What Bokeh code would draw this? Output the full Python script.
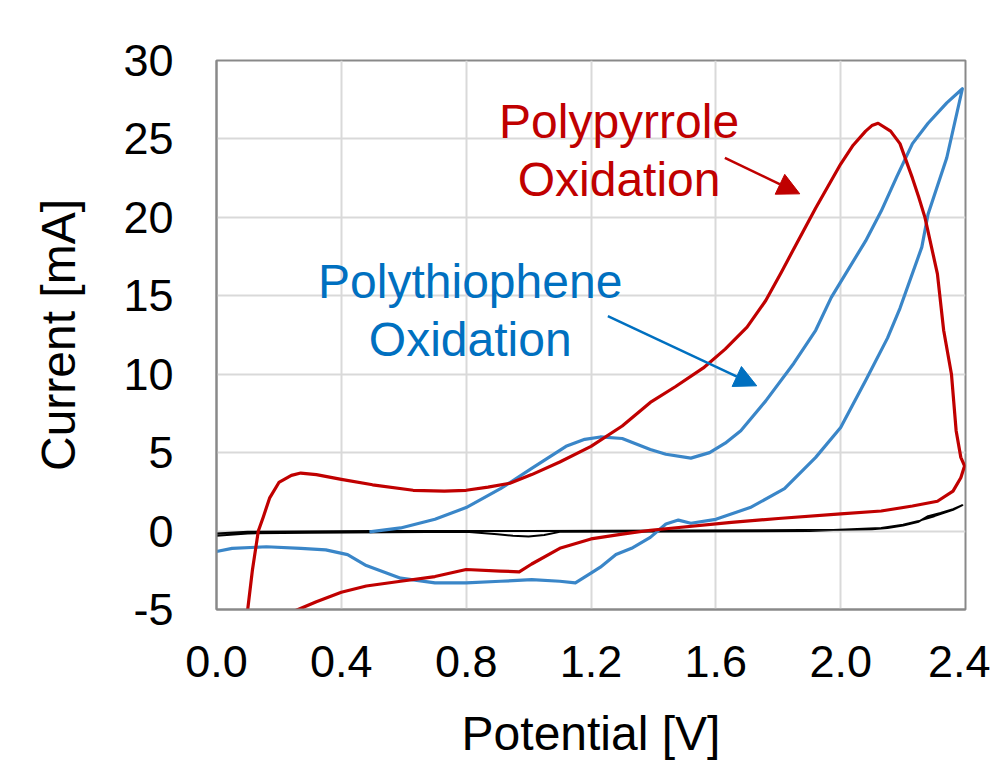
from bokeh.plotting import figure
from bokeh.models import Range1d, FixedTicker, NumeralTickFormatter, Arrow, NormalHead, ColumnDataSource
from bokeh.core.properties import value
from bokeh.embed import file_html
from bokeh.resources import INLINE

# ---- data ----
x_ticks = [0.0, 0.4, 0.8, 1.2, 1.6, 2.0, 2.4]
y_ticks = [-5, 0, 5, 10, 15, 20, 25, 30]

ppy_v = [0.09, 0.10, 0.115, 0.134, 0.15, 0.17, 0.20, 0.24, 0.27, 0.32, 0.40, 0.50, 0.63, 0.73, 0.80,
         0.87, 0.94, 1.01, 1.10, 1.20, 1.30, 1.39, 1.47, 1.56, 1.63, 1.70, 1.76, 1.81, 1.85, 1.92,
         2.00, 2.04, 2.08, 2.10, 2.12, 2.16, 2.19, 2.21, 2.23, 2.25, 2.27, 2.31, 2.33, 2.355, 2.37,
         2.385, 2.397,
         2.385, 2.36, 2.31, 2.23, 2.13, 2.00, 1.80, 1.65, 1.44, 1.39, 1.30, 1.20, 1.10, 1.01, 0.97,
         0.91, 0.80, 0.70, 0.59, 0.48, 0.40, 0.32, 0.25, 0.20]
ppy_i = [-6.5, -5.0, -2.5, 0.0, 0.9, 2.1, 3.1, 3.55, 3.7, 3.6, 3.3, 2.95, 2.6, 2.55, 2.6,
         2.8, 3.05, 3.6, 4.4, 5.4, 6.7, 8.2, 9.2, 10.4, 11.6, 13.0, 14.7, 16.5, 18.0, 20.6,
         23.4, 24.6, 25.5, 25.85, 26.0, 25.5, 24.7, 23.6, 22.5, 21.3, 20.0, 16.4, 12.8, 10.0, 6.4,
         4.7, 4.15,
         3.4, 2.55, 1.9, 1.6, 1.28, 1.1, 0.8, 0.55, 0.15, 0.05, -0.2, -0.5, -1.1, -2.1, -2.6,
         -2.55, -2.45, -2.9, -3.2, -3.5, -3.9, -4.5, -5.1, -5.6]

pth_v = [0.49, 0.59, 0.70, 0.80, 0.91, 1.01, 1.12, 1.18, 1.23, 1.30, 1.39, 1.44, 1.52, 1.58, 1.63,
         1.68, 1.76, 1.85, 1.92, 1.97, 2.08, 2.13, 2.18, 2.23, 2.28, 2.34, 2.39,
         2.34, 2.28, 2.26, 2.19, 2.15, 2.08, 2.00, 1.92, 1.82, 1.71, 1.60, 1.52, 1.48, 1.44,
         1.39, 1.33, 1.28, 1.23, 1.21, 1.15, 1.10, 1.01, 0.91, 0.80, 0.70, 0.59, 0.48, 0.42,
         0.35, 0.27, 0.16, 0.05, 0.0]
pth_i = [-0.05, 0.2, 0.75, 1.5, 2.7, 4.0, 5.4, 5.85, 6.0, 5.9, 5.2, 4.9, 4.65, 5.0, 5.6,
         6.4, 8.3, 10.7, 12.8, 14.9, 18.5, 20.4, 22.6, 24.7, 26.0, 27.3, 28.2,
         23.8, 20.2, 18.1, 14.2, 12.3, 9.6, 6.6, 4.7, 2.7, 1.5, 0.75, 0.5, 0.7, 0.45,
         -0.4, -1.1, -1.5, -2.3, -2.55, -3.3, -3.2, -3.1, -3.2, -3.3, -3.3, -3.0, -2.2, -1.5,
         -1.2, -1.1, -1.0, -1.1, -1.3]

blank_v = [0.0, 0.1, 0.5, 1.0, 1.5, 2.0, 2.1, 2.15, 2.2, 2.25, 2.28, 2.32, 2.36, 2.39,
           2.36, 2.3, 2.25, 2.2, 2.13, 1.9, 1.5, 1.1, 1.05, 1.0, 0.95, 0.9, 0.8, 0.3, 0.1, 0.0]
blank_i = [-0.15, -0.05, 0.0, 0.0, 0.03, 0.08, 0.12, 0.2, 0.35, 0.6, 0.95, 1.15, 1.4, 1.65,
           1.35, 0.95, 0.65, 0.4, 0.2, 0.0, -0.02, -0.05, -0.25, -0.35, -0.3, -0.2, -0.05, -0.1, -0.15, -0.3]

label_text = ["Polypyrrole", "Oxidation", "Polythiophene", "Oxidation"]
label_v = [1.29, 1.29, 0.813, 0.813]
label_i = [26.1, 22.4, 15.9, 12.2]
label_color = ["#C00000", "#C00000", "#0070C0", "#0070C0"]

arrow_start = [(1.629, 23.8), (1.254, 13.7)]
arrow_end = [(1.869, 21.5), (1.731, 9.26)]
arrow_color = ["#C00000", "#0070C0"]

x_title = "Potential [V]"
y_title = "Current [mA]"

FONT = "Liberation Sans"
AXIS_GRAY = "#898989"

p = figure(width=990, height=762, output_backend="svg", toolbar_location=None,
           x_range=Range1d(0, 2.4), y_range=Range1d(-5, 30),
           min_border_left=216, min_border_right=25, min_border_top=60, min_border_bottom=153)
p.background_fill_color = "white"
p.border_fill_color = "white"
p.outline_line_color = AXIS_GRAY
p.outline_line_width = 2

p.xaxis.ticker = FixedTicker(ticks=x_ticks)
p.yaxis.ticker = FixedTicker(ticks=y_ticks)
p.xaxis.formatter = NumeralTickFormatter(format="0.0")
p.yaxis.formatter = NumeralTickFormatter(format="0")
p.xaxis.axis_label = x_title
p.yaxis.axis_label = y_title
for ax in (p.xaxis, p.yaxis):
    ax.axis_line_color = AXIS_GRAY
    ax.axis_line_width = 2
    ax.major_tick_line_color = None
    ax.minor_tick_line_color = None
    ax.major_label_text_font = FONT
    ax.major_label_text_font_size = "45px"
    ax.major_label_text_color = "black"
    ax.axis_label_text_font = FONT
    ax.axis_label_text_font_size = "48px"
    ax.axis_label_text_font_style = "normal"
    ax.axis_label_text_color = "black"
p.xaxis.major_label_standoff = 30
p.xaxis.axis_label_standoff = 27
p.yaxis.major_label_standoff = 37
p.yaxis.axis_label_standoff = 35

p.xgrid.grid_line_color = "#D9D9D9"
p.ygrid.grid_line_color = "#D9D9D9"
p.xgrid.grid_line_width = 2
p.ygrid.grid_line_width = 2

p.line(blank_v, blank_i, line_color="black", line_width=2, line_join="round")
p.line(pth_v, pth_i, line_color="#3A86C8", line_width=3.2, line_join="round")
p.line(ppy_v, ppy_i, line_color="#C00000", line_width=3.2, line_join="round")

src = ColumnDataSource(dict(x=label_v, y=label_i, t=label_text, c=label_color))
p.text(x="x", y="y", text="t", text_color="c", source=src, text_align="center",
       text_baseline="alphabetic", text_font=value(FONT), text_font_size="48px")

for (x0, y0), (x1, y1), c in zip(arrow_start, arrow_end, arrow_color):
    p.add_layout(Arrow(x_start=x0, y_start=y0, x_end=x1, y_end=y1, line_color=c, line_width=2.5,
                       end=NormalHead(size=22, fill_color=c, line_color=c)))

open("out.html", "w").write(file_html(p, INLINE))
